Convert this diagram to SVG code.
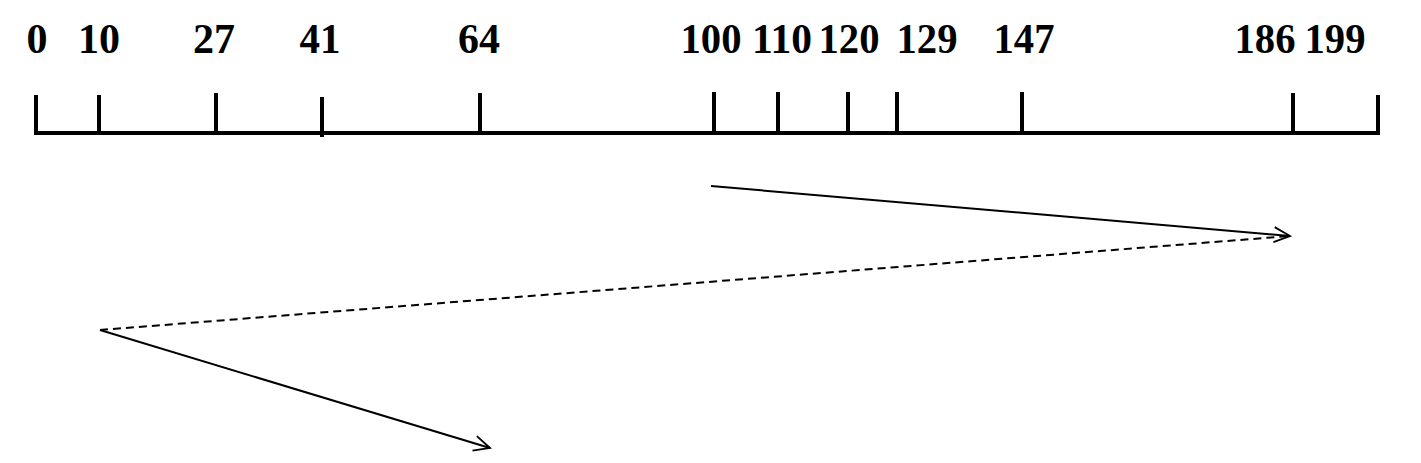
<svg xmlns="http://www.w3.org/2000/svg" width="1421" height="463" viewBox="0 0 1421 463">
<style>
.lbl{font-family:"Liberation Serif","Times New Roman",serif;font-weight:bold;font-size:43px;fill:#000;text-anchor:middle}
.axis{stroke:#000;stroke-width:4;fill:none}
.conn{stroke:#000;stroke-width:2;fill:none}
.dash{stroke-dasharray:8 5}
</style>
<defs>
<marker id="arr" markerWidth="20" markerHeight="18" refX="18" refY="9" orient="auto" markerUnits="userSpaceOnUse">
<path d="M2,1.5 L18,9 L2,16.5" fill="none" stroke="#000" stroke-width="1.8"/>
</marker>
</defs>
<rect width="1421" height="463" fill="#fff"/>
<g id="axis">
<path class="axis" d="M36,133 H1378"/>
<path class="axis" d="M36,95 V135 M99,95 V133 M216,93 V133 M322,97 V137 M480,93 V133 M714,92 V133 M778,92 V133 M848,92 V133 M897,92 V133 M1022,92 V133 M1293,93 V133 M1378,95 V135"/>
</g>
<g id="labels">
<text class="lbl" x="37" y="53" textLength="21" lengthAdjust="spacingAndGlyphs">0</text>
<text class="lbl" x="99" y="53" textLength="42" lengthAdjust="spacingAndGlyphs">10</text>
<text class="lbl" x="214" y="53" textLength="42" lengthAdjust="spacingAndGlyphs">27</text>
<text class="lbl" x="320" y="53" textLength="41" lengthAdjust="spacingAndGlyphs">41</text>
<text class="lbl" x="479" y="53" textLength="42" lengthAdjust="spacingAndGlyphs">64</text>
<text class="lbl" x="711" y="53" textLength="61" lengthAdjust="spacingAndGlyphs">100</text>
<text class="lbl" x="782" y="53" textLength="60" lengthAdjust="spacingAndGlyphs">110</text>
<text class="lbl" x="849" y="53" textLength="61" lengthAdjust="spacingAndGlyphs">120</text>
<text class="lbl" x="927" y="53" textLength="61" lengthAdjust="spacingAndGlyphs">129</text>
<text class="lbl" x="1024" y="53" textLength="61" lengthAdjust="spacingAndGlyphs">147</text>
<text class="lbl" x="1265" y="53" textLength="61" lengthAdjust="spacingAndGlyphs">186</text>
<text class="lbl" x="1335" y="53" textLength="61" lengthAdjust="spacingAndGlyphs">199</text>
</g>
<g id="connectors">
<line class="conn" x1="711" y1="186" x2="1290" y2="236" marker-end="url(#arr)"/>
<line class="conn dash" x1="100" y1="330" x2="1290" y2="236"/>
<line class="conn" x1="100" y1="330" x2="490" y2="448" marker-end="url(#arr)"/>
</g>
</svg>
